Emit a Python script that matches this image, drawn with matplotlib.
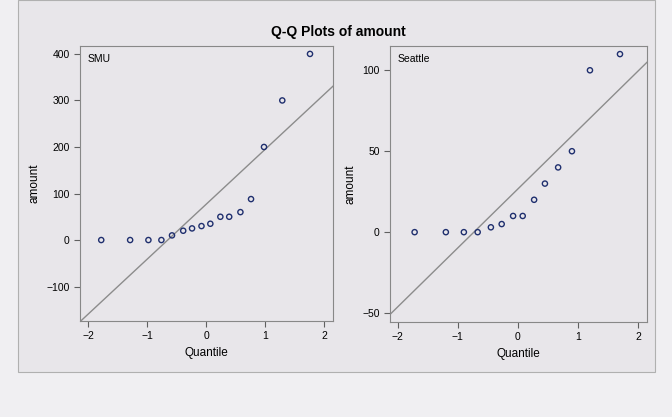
import numpy as np
import matplotlib.pyplot as plt
from matplotlib.patches import Rectangle

smu_q = [-1.78, -1.29, -0.98, -0.76, -0.58, -0.39, -0.24, -0.08, 0.07, 0.24, 0.39, 0.58, 0.76, 0.98, 1.29, 1.76]
smu_amount = [0, 0, 0, 0, 10, 20, 25, 30, 35, 50, 50, 60, 88, 200, 300, 400]
smu_line = (77, 118)   # intercept, slope

sea_q = [-1.72, -1.2, -0.9, -0.67, -0.45, -0.27, -0.08, 0.08, 0.27, 0.45, 0.67, 0.9, 1.2, 1.7]
sea_amount = [0, 0, 0, 0, 3, 5, 10, 10, 20, 30, 40, 50, 100, 110]
sea_line = (26.7, 36.4)

W, H = 672, 417
bg = '#e8e6ea'
fig = plt.figure(figsize=(W/100, H/100), dpi=100, facecolor='#f0eff2')
fig.patches.append(Rectangle((18/W, 1-372/H), 637/W, 372/H, transform=fig.transFigure,
                             facecolor=bg, edgecolor='#b0b0b0', lw=0.8, zorder=-10))
fig.text(338/W, 1-32/H, 'Q-Q Plots of amount', ha='center', va='center',
         fontsize=10, fontweight='bold', family='Liberation Sans')

def panel(box, q, y, line, xlim, ylim, yticks, label):
    ax = fig.add_axes([box[0]/W, 1-box[3]/H, (box[2]-box[0])/W, (box[3]-box[1])/H])
    ax.set_facecolor(bg)
    xs = np.array(xlim)
    ax.plot(xs, line[0] + line[1]*xs, color='#8c8c8c', lw=1)
    ax.scatter(q, y, s=14, facecolors='none', edgecolors='#1f2f6e', linewidths=1, zorder=3)
    ax.set_xlim(xlim); ax.set_ylim(ylim)
    ax.set_xticks([-2, -1, 0, 1, 2]); ax.set_yticks(yticks)
    ax.tick_params(labelsize=7.5, color='#606060', length=4)
    for s in ax.spines.values():
        s.set_color('#888888')
    ax.set_xlabel('Quantile', fontsize=8.5, family='Liberation Sans')
    ax.set_ylabel('amount', fontsize=8.5, family='Liberation Sans')
    ax.text(0.03, 0.97, label, transform=ax.transAxes, va='top', fontsize=7.5, family='Liberation Sans')
    for t in ax.get_xticklabels() + ax.get_yticklabels():
        t.set_family('Liberation Sans')
    return ax

panel((80, 46, 333, 321), smu_q, smu_amount, smu_line, (-2.14, 2.15), (-174, 417),
      [-100, 0, 100, 200, 300, 400], 'SMU')
panel((390, 46, 647, 322), sea_q, sea_amount, sea_line, (-2.13, 2.15), (-55.5, 115),
      [-50, 0, 50, 100], 'Seattle')

fig.savefig('out.png', dpi=100, facecolor=fig.get_facecolor())
